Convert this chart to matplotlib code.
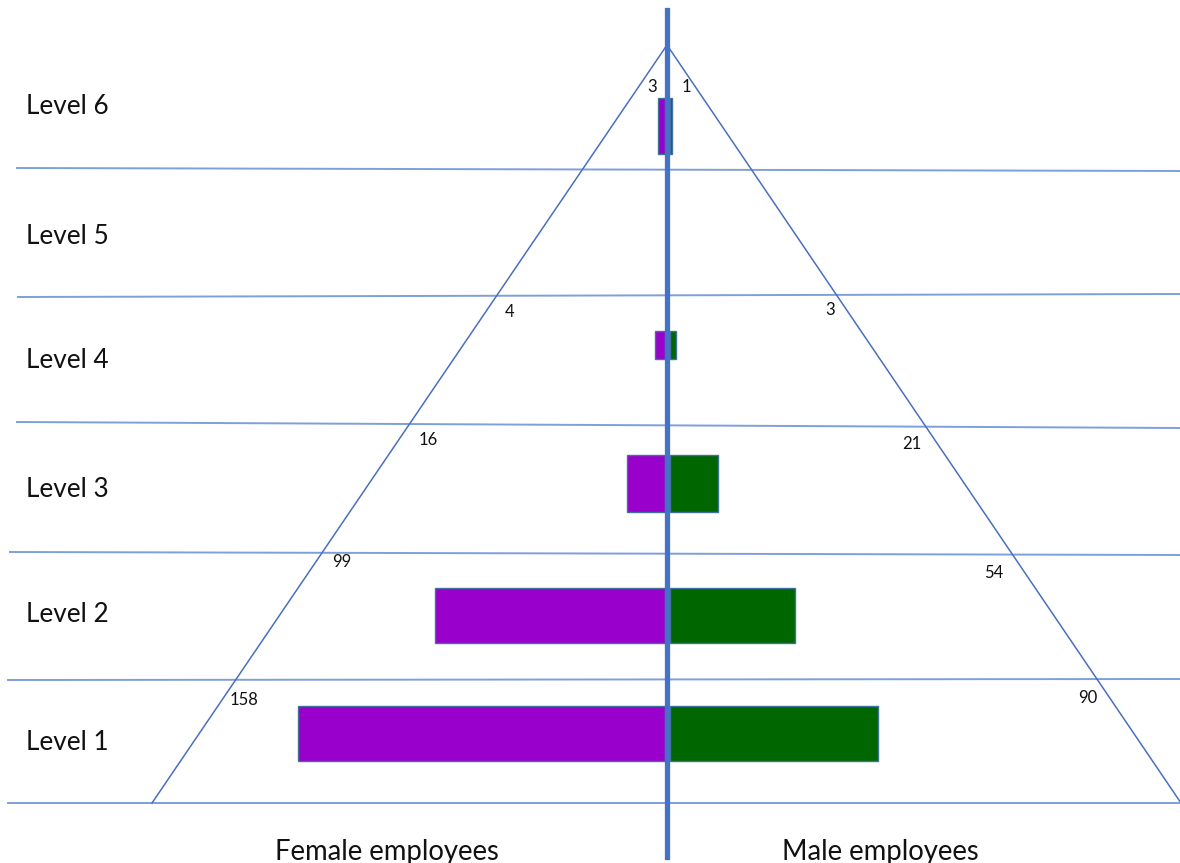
""" EMPLOYEE PYRAMID """
import matplotlib
matplotlib.use('Agg')
import matplotlib.pyplot as plt

plt.rcParams['font.family'] = ['Lato', 'DejaVu Sans']

levels = ['Level 1', 'Level 2', 'Level 3', 'Level 4', 'Level 5', 'Level 6']
female = [158, 99, 16, 4, 0, 3]
male = [90, 54, 21, 3, 0, 1]

# layout in pixels
px_per_count = 2.32
centre_px = 667
bar_mid = [733, 615, 483, 345, 235, 126]
bar_h = [55, 55, 57, 28, 55, 56]
level_text_y = [742, 614, 489, 360, 236, 107]
row_lines = [(17, 168, 171), (18, 297, 294), (17, 422, 428),
             (10, 552, 555), (8, 680, 679), (8, 803, 803)]
female_lab = [(244, 700), (342, 562), (428, 440), (510, 312), None, (652, 87)]
male_lab = [(1088, 698), (994, 573), (912, 444), (830, 310), None, (686, 87)]


def px(x):
    # pixel column -> counts
    return (x - centre_px) / px_per_count


fig = plt.figure(figsize=(11.8, 8.63), dpi=100)
ax = fig.add_axes([0, 0, 1, 1])
ax.set_xlim(px(0), px(1180))
ax.set_ylim(863, 0)
ax.axis('off')

# row separators
for x0, y0, y1 in row_lines:
    ax.plot([px(x0), px(1180)], [y0, y1], color='#7f9fdc', lw=1.4, zorder=1)

# triangle
apex_y = 45
ax.plot([px(152), px(centre_px), px(1181)], [803, apex_y, 803],
        color='#4a6fc0', lw=1.1, zorder=2)

gap = 2.5 / px_per_count
for i in range(len(levels)):
    if female[i] > 0:
        ax.barh(bar_mid[i], -female[i], left=-gap, height=bar_h[i],
                color='#9900cc', edgecolor='#41719c', lw=1, zorder=3)
    if male[i] > 0:
        ax.barh(bar_mid[i], male[i], left=gap, height=bar_h[i],
                color='#006600', edgecolor='#41719c', lw=1, zorder=3)
    ax.text(px(26), level_text_y[i], levels[i], fontsize=18.8,
            ha='left', va='center', color='#111111')
    if female_lab[i] is not None:
        ax.text(px(female_lab[i][0]), female_lab[i][1], str(female[i]),
                fontsize=12, ha='center', va='center', color='#111111')
        ax.text(px(male_lab[i][0]), male_lab[i][1], str(male[i]),
                fontsize=12, ha='center', va='center', color='#111111')

# centre axis
ax.plot([0, 0], [10, 857], color='#4472c4', lw=3.8, zorder=4)

ax.text(px(387), 852, 'Female employees', fontsize=19.8, ha='center',
        va='center', color='#111111')
ax.text(px(880), 852, 'Male employees', fontsize=19.8, ha='center',
        va='center', color='#111111')

fig.savefig('out.png', dpi=100)
